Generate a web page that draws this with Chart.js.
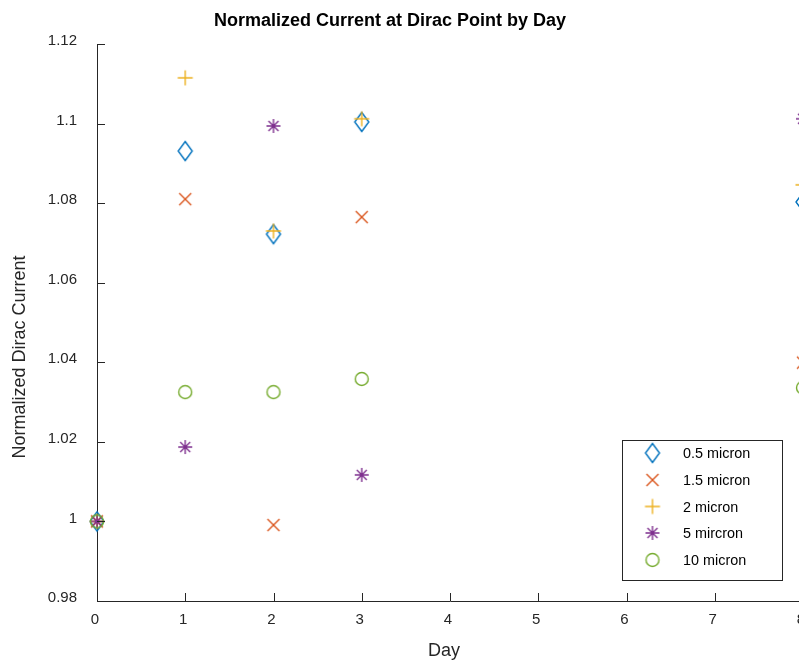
<!DOCTYPE html>
<html>
<head>
<meta charset="utf-8">
<script src="https://cdn.jsdelivr.net/npm/chart.js@4/dist/chart.umd.min.js"></script>
<style>
  html, body { margin: 0; padding: 0; background: #fff; overflow: hidden; }
  #wrap { width: 840px; height: 663px; }
</style>
</head>
<body>
<div id="wrap"><canvas id="chart" width="840" height="663"></canvas></div>
<script>
// dane
const days = [0, 1, 2, 3, 8];
const yTicks = [0.98, 1, 1.02, 1.04, 1.06, 1.08, 1.1, 1.12];
const seriesNames = ['0.5 micron', '1.5 micron', '2 micron', '5 mircron', '10 micron'];
const s05 = [1.000, 1.0931, 1.0722, 1.1004, 1.0803];
const s15 = [1.000, 1.0810, 0.9991, 1.0765, 1.0399];
const s2 = [1.000, 1.1115, 1.0730, 1.1012, 1.0846];
const s5 = [1.000, 1.0187, 1.0994, 1.0117, 1.1012];
const s10 = [1.000, 1.0325, 1.0325, 1.0358, 1.0336];

const COLORS = ['#0072BD', '#D95319', '#EDB120', '#7E2F8E', '#77AC30'];
const TEXT = '#262626';
const FONT = '"Liberation Sans", Arial, Helvetica, sans-serif';

// markery rysowane na małych canvasach (jak w MATLAB)
function makeMarker(kind, color) {
    const c = document.createElement('canvas');
    c.width = 22; c.height = 24;
    const g = c.getContext('2d');
    const cx = 11, cy = 12;
    g.strokeStyle = color;
    g.lineWidth = 1.4;
    g.beginPath();
    if (kind === 'diamond') {
        g.moveTo(cx, cy - 9.5); g.lineTo(cx + 7, cy); g.lineTo(cx, cy + 9.5); g.lineTo(cx - 7, cy); g.closePath();
    } else if (kind === 'x') {
        g.moveTo(cx - 6, cy - 6); g.lineTo(cx + 6, cy + 6);
        g.moveTo(cx + 6, cy - 6); g.lineTo(cx - 6, cy + 6);
    } else if (kind === 'plus') {
        g.moveTo(cx - 7.5, cy); g.lineTo(cx + 7.5, cy);
        g.moveTo(cx, cy - 7.5); g.lineTo(cx, cy + 7.5);
    } else if (kind === 'star') {
        g.moveTo(cx - 7, cy); g.lineTo(cx + 7, cy);
        g.moveTo(cx, cy - 7); g.lineTo(cx, cy + 7);
        g.moveTo(cx - 5, cy - 5); g.lineTo(cx + 5, cy + 5);
        g.moveTo(cx + 5, cy - 5); g.lineTo(cx - 5, cy + 5);
    } else {
        g.arc(cx, cy, 6.5, 0, Math.PI * 2);
    }
    g.stroke();
    return c;
}

const kinds = ['diamond', 'x', 'plus', 'star', 'circle'];
const markers = kinds.map((k, i) => makeMarker(k, COLORS[i]));
const values = [s05, s15, s2, s5, s10];

const datasets = values.map((vals, i) => ({
    label: seriesNames[i],
    data: days.map((d, j) => ({ x: d, y: vals[j] })),
    pointStyle: markers[i],
    pointRadius: 8,
    showLine: false,
    clip: false,
    order: 5 - i
}));

// tytuły, legenda i wewnętrzne kreski osi
const decorPlugin = {
    id: 'decor',
    afterDraw(chart) {
        const ctx = chart.ctx;
        const area = chart.chartArea;
        const xs = chart.scales.x, ys = chart.scales.y;
        ctx.save();
        ctx.strokeStyle = TEXT;
        ctx.lineWidth = 1;
        ctx.beginPath();
        xs.ticks.forEach((t, i) => {
            const px = Math.round(xs.getPixelForTick(i)) + 0.5;
            ctx.moveTo(px, area.bottom); ctx.lineTo(px, area.bottom - 8);
        });
        ys.ticks.forEach((t, i) => {
            const py = Math.round(ys.getPixelForTick(i)) + 0.5;
            ctx.moveTo(area.left, py); ctx.lineTo(area.left + 8, py);
        });
        ctx.stroke();

        ctx.fillStyle = '#000';
        ctx.font = 'bold 18px ' + FONT;
        ctx.textAlign = 'center';
        ctx.textBaseline = 'alphabetic';
        ctx.fillText('Normalized Current at Dirac Point by Day', 390, 26);

        ctx.fillStyle = TEXT;
        ctx.font = '18px ' + FONT;
        ctx.fillText('Day', 444, 656);

        ctx.save();
        ctx.translate(25, 357);
        ctx.rotate(-Math.PI / 2);
        ctx.fillText('Normalized Dirac Current', 0, 0);
        ctx.restore();

        // legenda
        const lx = 622, ly = 440, lw = 160, lh = 140;
        ctx.fillStyle = '#fff';
        ctx.fillRect(lx, ly, lw, lh);
        ctx.strokeStyle = TEXT;
        ctx.strokeRect(lx + 0.5, ly + 0.5, lw, lh);
        ctx.font = '14.4px ' + FONT;
        ctx.textAlign = 'left';
        ctx.fillStyle = '#000';
        const rows = [453, 480, 506.5, 533, 560];
        seriesNames.forEach((name, i) => {
            const m = markers[i];
            ctx.drawImage(m, 652.5 - m.width / 2, rows[i] - m.height / 2);
            ctx.fillText(name, 683, rows[i] + 5);
        });
        ctx.restore();
    }
};

new Chart(document.getElementById('chart'), {
    type: 'scatter',
    data: { datasets },
    options: {
        responsive: false,
        animation: false,
        layout: { padding: { top: 44, right: 37, bottom: 0, left: 0 } },
        plugins: {
            legend: { display: false },
            tooltip: { enabled: false },
            title: { display: false }
        },
        scales: {
            x: {
                type: 'linear',
                min: 0, max: 8,
                afterFit(scale) { scale.height = 62; },
                grid: { display: false, drawTicks: false },
                border: { display: true, color: TEXT, width: 1 },
                ticks: {
                    stepSize: 1, color: TEXT, padding: 10, labelOffset: -2,
                    autoSkip: false, font: { size: 15, family: FONT }
                }
            },
            y: {
                type: 'linear',
                min: 0.98, max: 1.12,
                afterFit(scale) { scale.width = 97; },
                afterBuildTicks(scale) { scale.ticks = yTicks.map(v => ({ value: v })); },
                grid: { display: false, drawTicks: false },
                border: { display: true, color: TEXT, width: 1 },
                ticks: {
                    color: TEXT, padding: 20, labelOffset: -3, font: { size: 15, family: FONT },
                    callback: v => String(parseFloat(v.toFixed(2)))
                }
            }
        }
    },
    plugins: [decorPlugin]
});
</script>
</body>
</html>
